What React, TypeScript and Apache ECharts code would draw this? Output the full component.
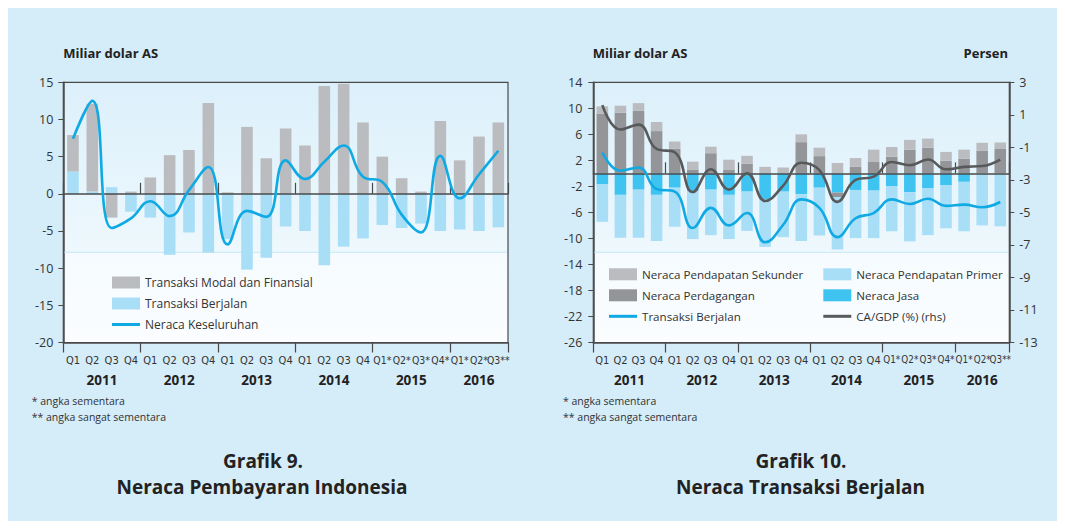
import React, { useEffect, useRef } from 'react';
import * as echarts from 'echarts';

// ---------- data ----------
const quarters = [
  'Q1', 'Q2', 'Q3', 'Q4',
  'Q1', 'Q2', 'Q3', 'Q4',
  'Q1', 'Q2', 'Q3', 'Q4',
  'Q1', 'Q2', 'Q3', 'Q4',
  'Q1*', 'Q2*', 'Q3*', 'Q4*',
  'Q1*', 'Q2*', 'Q3**',
];
const years = ['2011', '2012', '2013', '2014', '2015', '2016'];
const quartersPerYear = [4, 4, 4, 4, 4, 3];

// Grafik 9 – Neraca Pembayaran Indonesia (miliar dolar AS)
const transaksiBerjalan9 = [3.0, 0.3, 0.9, -2.4, -3.2, -8.2, -5.2, -7.9, -6.1, -10.2, -8.6, -4.4, -5.0, -9.6, -7.1, -6.0, -4.2, -4.6, -4.0, -5.0, -4.8, -5.0, -4.5];
const modalFinansial9 = [4.9, 11.8, -3.2, 0.3, 2.2, 5.2, 5.9, 12.2, 0.2, 9.0, 4.8, 8.8, 6.5, 14.5, 14.8, 9.6, 5.0, 2.1, 0.3, 9.8, 4.5, 7.7, 9.6];
const neracaKeseluruhan9 = [7.4, 12.5, -4.6, -3.3, -1.0, -3.0, 0.5, 3.6, -6.8, -2.3, -3.1, 4.5, 2.0, 4.3, 6.5, 2.3, 1.6, -2.8, -5.2, 5.1, -0.6, 2.6, 5.8];

// Grafik 10 – Neraca Transaksi Berjalan
const neracaJasa = [-1.7, -3.3, -2.5, -3.3, -2.2, -2.7, -2.5, -3.3, -2.8, -4.0, -2.8, -3.2, -2.2, -2.95, -2.55, -2.65, -1.95, -2.9, -2.25, -1.8, -1.3, 0, 0];
const neracaPerdagangan = [9.2, 9.3, 9.6, 6.5, 3.8, 0.6, 3.1, 0.6, 1.5, 0, 0, 4.8, 2.65, -0.7, 1.0, 1.75, 2.55, 3.65, 3.95, 1.95, 2.25, 3.45, 3.75];
const pendapatanPrimer = [-5.75, -6.6, -7.4, -7.1, -6.0, -7.4, -7.0, -6.8, -6.05, -7.3, -7.0, -7.2, -7.35, -8.05, -7.4, -7.3, -6.95, -7.55, -7.25, -6.65, -7.6, -8.0, -8.15];
const pendapatanSekunder = [1.1, 1.1, 1.2, 1.4, 1.1, 1.2, 1.0, 1.5, 1.2, 1.0, 0.9, 1.2, 1.3, 1.6, 1.35, 1.9, 1.5, 1.5, 1.4, 1.35, 1.4, 1.25, 1.0];
const transaksiBerjalan10 = [3.2, 0.4, 0.9, -2.4, -2.8, -8.4, -5.3, -8.0, -6.1, -10.6, -7.9, -4.0, -5.3, -9.8, -6.9, -6.1, -4.0, -4.7, -3.9, -5.0, -4.8, -5.2, -4.4];
const caGdp = [1.6, 0.1, 0.4, -1.1, -1.3, -3.75, -2.35, -3.6, -2.6, -4.3, -3.35, -1.95, -2.4, -4.35, -3.0, -2.8, -1.9, -2.1, -1.75, -2.35, -2.2, -2.15, -1.75];

// ---------- styling ----------
const FONT = "'Open Sans', 'Noto Sans', sans-serif";
const NARROW = "'Liberation Sans Narrow', 'DejaVu Sans Condensed', 'Open Sans', sans-serif";
const AXIS = '#4a4a4a';
const TXT = '#333333';
const C_GRAY = '#bbbcbf';
const C_DGRAY = '#949598';
const C_LBLUE = '#a9def7';
const C_CYAN = '#3fc3f0';
const C_LINE = '#0fa9e3';
const C_CAGDP = '#58595b';
const LINE_ICON = 'path://M0,0H28V3H0Z';

function yearSlots(): string[] {
  const total = quartersPerYear.reduce((a, b) => a + b, 0);
  const slots: string[] = new Array(total * 2 + 1).fill('');
  let start = 0;
  years.forEach((y, i) => {
    slots[2 * start + quartersPerYear[i]] = y;
    start += quartersPerYear[i];
  });
  return slots;
}

function yearStarts(): Set<number> {
  const s = new Set<number>();
  let start = 0;
  quartersPerYear.forEach((q) => { s.add(start); start += q; });
  return s;
}

function xAxesFor(g: number, yIdx: number, starSize: number) {
  const starts = yearStarts();
  const yearTick = (i: number) => starts.has(i);
  return [
    {
      type: 'category', gridIndex: g, data: quarters, position: 'bottom',
      axisLine: { onZero: false, lineStyle: { color: AXIS, width: 1.5 } },
      axisTick: { length: 7, lineStyle: { color: AXIS, width: 1.2 } },
      axisLabel: {
        interval: 0, fontSize: 11, color: TXT, fontFamily: NARROW, margin: 12,
        formatter: (v: string) => (v.indexOf('*') >= 0 ? `{s|${v}}` : v),
        rich: { s: { fontSize: starSize, color: TXT, fontFamily: NARROW } },
      },
      splitLine: { show: false },
    },
    {
      type: 'category', gridIndex: g, data: quarters, z: 3,
      axisLine: { onZero: true, onZeroAxisIndex: yIdx, lineStyle: { color: AXIS, width: 1.5 } },
      axisTick: { length: 6, lineStyle: { color: AXIS, width: 1.2 } },
      axisLabel: { show: false },
      splitLine: { show: false },
    },
    {
      type: 'category', gridIndex: g, data: quarters, position: 'bottom',
      axisLine: { show: false, onZero: false },
      axisTick: { show: true, interval: yearTick, length: 10, lineStyle: { color: AXIS, width: 1.2 } },
      axisLabel: { show: false }, splitLine: { show: false },
    },
    {
      type: 'category', gridIndex: g, data: quarters, z: 3,
      axisLine: { show: false, onZero: true, onZeroAxisIndex: yIdx },
      axisTick: { show: true, interval: yearTick, length: 11, lineStyle: { color: AXIS, width: 1.2 } },
      axisLabel: { show: false }, splitLine: { show: false },
    },
    {
      type: 'category', gridIndex: g, data: yearSlots(), boundaryGap: false, position: 'bottom',
      axisLine: { show: false, onZero: false }, axisTick: { show: false },
      axisLabel: { interval: 0, fontSize: 13.5, fontWeight: 'bold', color: '#222', fontFamily: FONT, margin: 30 },
      splitLine: { show: false },
    },
  ];
}

const plotBg = () =>
  new echarts.graphic.LinearGradient(0, 0, 0, 1, [
    { offset: 0, color: '#dcf0fb' },
    { offset: 0.653, color: '#eef8fd' },
    { offset: 0.656, color: '#f5fbfe' },
    { offset: 1, color: '#fbfdff' },
  ]);

export default function App() {
  const ref = useRef<HTMLDivElement>(null);

  useEffect(() => {
    if (!ref.current) return;
    const chart = echarts.init(ref.current, undefined, { renderer: 'svg' });

    const gridL = { left: 55.3, top: 74.3, width: 444.7, height: 260.2 };
    const gridR = { left: 585.3, top: 74.3, width: 416, height: 260.2 };

    const text = (x: number, y: number, t: string, size: number, weight: string, align: string, family = FONT, fill = '#222') => ({
      type: 'text', x, y, silent: true,
      style: { text: t, fontSize: size, fontWeight: weight, fontFamily: family, fill, align, verticalAlign: 'middle' },
    });

    const legendBase = { orient: 'vertical', padding: 0, itemWidth: 28, itemHeight: 12, itemGap: 9, selectedMode: false };

    const option: any = {
      animation: false,
      textStyle: { fontFamily: FONT },
      grid: [
        { ...gridL, show: true, backgroundColor: plotBg(), borderColor: AXIS, borderWidth: 1.2 },
        { ...gridR, show: true, backgroundColor: plotBg(), borderColor: AXIS, borderWidth: 1.2 },
      ],
      xAxis: [...xAxesFor(0, 0, 10.4), ...xAxesFor(1, 1, 9.8)],
      yAxis: [
        {
          type: 'value', gridIndex: 0, min: -20, max: 15, interval: 5,
          axisLine: { show: true, lineStyle: { color: AXIS, width: 1.5 } },
          axisTick: { show: true, length: 5, lineStyle: { color: AXIS } },
          axisLabel: { fontSize: 12.5, color: TXT, margin: 10 },
          splitLine: { show: false },
        },
        {
          type: 'value', gridIndex: 1, min: -26, max: 14, interval: 4,
          axisLine: { show: true, lineStyle: { color: AXIS, width: 1.5 } },
          axisTick: { show: true, length: 5, lineStyle: { color: AXIS } },
          axisLabel: { fontSize: 12.5, color: TXT, margin: 11 },
          splitLine: { show: false },
        },
        {
          type: 'value', gridIndex: 1, min: -13, max: 3, interval: 2, position: 'right',
          axisLine: { show: true, lineStyle: { color: AXIS, width: 1.5 } },
          axisTick: { show: true, length: 5, lineStyle: { color: AXIS } },
          axisLabel: { fontSize: 12.5, color: TXT, margin: 10 },
          splitLine: { show: false },
        },
      ],
      legend: [
        {
          ...legendBase, left: 104, top: 268.5,
          textStyle: { fontSize: 12, color: TXT, fontFamily: FONT },
          data: [
            { name: 'Transaksi Modal dan Finansial', icon: 'rect' },
            { name: 'Transaksi Berjalan', icon: 'rect' },
            { name: 'Neraca Keseluruhan', icon: LINE_ICON, itemStyle: { color: C_LINE, borderWidth: 0 } },
          ],
        },
        {
          ...legendBase, left: 601, top: 260.3,
          textStyle: { fontSize: 11.6, color: TXT, fontFamily: FONT },
          data: [
            { name: 'Neraca Pendapatan Sekunder', icon: 'rect' },
            { name: 'Neraca Perdagangan', icon: 'rect' },
            { name: 'Transaksi Berjalan', icon: LINE_ICON, itemStyle: { color: C_LINE, borderWidth: 0 } },
          ],
        },
        {
          ...legendBase, left: 815.3, top: 260.3,
          textStyle: { fontSize: 11.6, color: TXT, fontFamily: FONT },
          data: [
            { name: 'Neraca Pendapatan Primer', icon: 'rect' },
            { name: 'Neraca Jasa', icon: 'rect' },
            { name: 'CA/GDP (%) (rhs)', icon: LINE_ICON, itemStyle: { color: C_CAGDP, borderWidth: 0 } },
          ],
        },
      ],
      series: [
        {
          name: 'Transaksi Berjalan', type: 'bar', stack: 'L', xAxisIndex: 0, yAxisIndex: 0,
          barWidth: '60%', itemStyle: { color: C_LBLUE }, data: transaksiBerjalan9,
        },
        {
          name: 'Transaksi Modal dan Finansial', type: 'bar', stack: 'L', xAxisIndex: 0, yAxisIndex: 0,
          barWidth: '60%', itemStyle: { color: C_GRAY }, data: modalFinansial9,
        },
        {
          name: 'Neraca Keseluruhan', type: 'line', xAxisIndex: 0, yAxisIndex: 0, smooth: 0.45, z: 10,
          symbol: 'none', lineStyle: { color: C_LINE, width: 2.6 }, itemStyle: { color: C_LINE },
          data: neracaKeseluruhan9,
        },
        {
          name: 'Neraca Jasa', type: 'bar', stack: 'R', xAxisIndex: 5, yAxisIndex: 1,
          barWidth: '64%', itemStyle: { color: C_CYAN }, data: neracaJasa,
        },
        {
          name: 'Neraca Perdagangan', type: 'bar', stack: 'R', xAxisIndex: 5, yAxisIndex: 1,
          barWidth: '64%', itemStyle: { color: C_DGRAY }, data: neracaPerdagangan,
        },
        {
          name: 'Neraca Pendapatan Primer', type: 'bar', stack: 'R', xAxisIndex: 5, yAxisIndex: 1,
          barWidth: '64%', itemStyle: { color: C_LBLUE }, data: pendapatanPrimer,
        },
        {
          name: 'Neraca Pendapatan Sekunder', type: 'bar', stack: 'R', xAxisIndex: 5, yAxisIndex: 1,
          barWidth: '64%', itemStyle: { color: C_GRAY }, data: pendapatanSekunder,
        },
        {
          name: 'Transaksi Berjalan', type: 'line', xAxisIndex: 5, yAxisIndex: 1, smooth: 0.45, z: 10,
          symbol: 'none', lineStyle: { color: C_LINE, width: 2.6 }, itemStyle: { color: C_LINE },
          data: transaksiBerjalan10,
        },
        {
          name: 'CA/GDP (%) (rhs)', type: 'line', xAxisIndex: 5, yAxisIndex: 2, smooth: 0.45, z: 11,
          symbol: 'none', lineStyle: { color: C_CAGDP, width: 2.6 }, itemStyle: { color: C_CAGDP },
          data: caGdp,
        },
      ],
      graphic: [
        {
          type: 'line', silent: true, z: 1,
          shape: { x1: gridL.left + 1, y1: 244.3, x2: gridL.left + gridL.width - 1, y2: 244.3 },
          style: { stroke: '#c8e7f6', lineWidth: 1 },
        },
        {
          type: 'line', silent: true, z: 1,
          shape: { x1: gridR.left + 1, y1: 244.3, x2: gridR.left + gridR.width - 1, y2: 244.3 },
          style: { stroke: '#c8e7f6', lineWidth: 1 },
        },
        text(55.3, 44.5, 'Miliar dolar AS', 13, 'bold', 'left'),
        text(584.7, 45, 'Miliar dolar AS', 13, 'bold', 'left'),
        text(1000, 45, 'Persen', 13, 'bold', 'right'),
        text(23.7, 393, '* angka sementara', 10.5, 'normal', 'left', FONT, '#333'),
        text(23.7, 408.7, '** angka sangat sementara', 10.5, 'normal', 'left', FONT, '#333'),
        text(555, 393, '* angka sementara', 10.5, 'normal', 'left', FONT, '#333'),
        text(555, 408.7, '** angka sangat sementara', 10.5, 'normal', 'left', FONT, '#333'),
        text(255, 452.5, 'Grafik 9.', 19, 'bold', 'center'),
        text(254, 478.5, 'Neraca Pembayaran Indonesia', 19, 'bold', 'center'),
        text(793, 452.5, 'Grafik 10.', 19, 'bold', 'center'),
        text(792.5, 478.5, 'Neraca Transaksi Berjalan', 19, 'bold', 'center'),
      ],
    };

    chart.setOption(option);
    return () => chart.dispose();
  }, []);

  return <div ref={ref} style={{ width: 1049, height: 513, background: '#d5ecf9' }} />;
}
